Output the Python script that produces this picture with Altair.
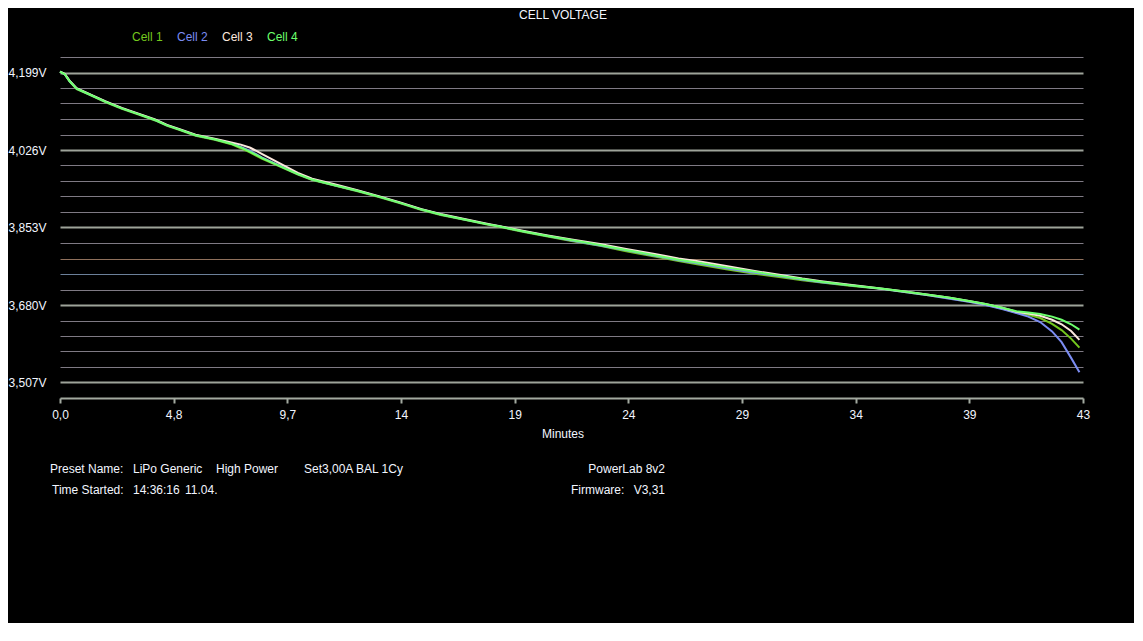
import altair as alt
import pandas as pd

# ---------------- data ----------------
minutes = [0.0, 0.2, 0.4, 0.7, 1.2, 1.9, 2.6, 3.3, 4.0, 4.5,
           5.0, 5.7, 6.5, 7.2, 7.6, 8.0, 8.5, 9.2, 10.0, 10.6,
           11.5, 12.5, 13.4, 14.3, 15.2, 16.0, 17.0, 18.0, 18.5, 19.5,
           20.5, 21.5, 22.7, 23.8, 25.0, 26.0, 26.9, 28.0, 29.2, 30.3,
           31.2, 32.0, 33.2, 34.5, 35.5, 36.5, 37.4, 38.2, 38.9, 39.6,
           40.2, 40.7, 41.2, 41.7, 42.1, 42.5, 42.85]

cell1 = [4.201, 4.195, 4.179, 4.162, 4.150, 4.133, 4.118, 4.105, 4.092, 4.080,
         4.071, 4.058, 4.049, 4.039, 4.030, 4.020, 4.006, 3.990, 3.971, 3.959,
         3.947, 3.934, 3.921, 3.907, 3.892, 3.881, 3.870, 3.859, 3.854, 3.843,
         3.833, 3.823, 3.812, 3.800, 3.788, 3.778, 3.770, 3.760, 3.750, 3.742,
         3.735, 3.730, 3.723, 3.716, 3.709, 3.702, 3.695, 3.688, 3.681, 3.672,
         3.663, 3.658, 3.651, 3.638, 3.624, 3.605, 3.585]

cell2 = [4.201, 4.195, 4.180, 4.163, 4.151, 4.134, 4.119, 4.106, 4.093, 4.081,
         4.072, 4.059, 4.050, 4.041, 4.033, 4.024, 4.009, 3.992, 3.972, 3.960,
         3.948, 3.935, 3.922, 3.908, 3.893, 3.882, 3.871, 3.860, 3.855, 3.844,
         3.834, 3.824, 3.813, 3.802, 3.790, 3.780, 3.772, 3.762, 3.752, 3.744,
         3.737, 3.731, 3.724, 3.716, 3.709, 3.702, 3.694, 3.687, 3.680, 3.671,
         3.662, 3.654, 3.642, 3.621, 3.597, 3.562, 3.530]

cell3 = [4.201, 4.196, 4.181, 4.164, 4.152, 4.135, 4.120, 4.107, 4.094, 4.082,
         4.073, 4.060, 4.051, 4.043, 4.038, 4.031, 4.017, 3.997, 3.975, 3.962,
         3.950, 3.936, 3.923, 3.909, 3.894, 3.883, 3.872, 3.861, 3.856, 3.845,
         3.835, 3.826, 3.816, 3.805, 3.794, 3.784, 3.777, 3.767, 3.756, 3.747,
         3.739, 3.733, 3.725, 3.717, 3.710, 3.703, 3.696, 3.689, 3.682, 3.674,
         3.665, 3.661, 3.656, 3.647, 3.637, 3.622, 3.602]

cell4 = [4.201, 4.195, 4.180, 4.163, 4.151, 4.134, 4.119, 4.106, 4.093, 4.081,
         4.072, 4.059, 4.050, 4.040, 4.032, 4.022, 4.008, 3.991, 3.972, 3.960,
         3.948, 3.935, 3.922, 3.908, 3.893, 3.882, 3.871, 3.860, 3.855, 3.844,
         3.834, 3.825, 3.814, 3.803, 3.791, 3.781, 3.774, 3.764, 3.754, 3.745,
         3.738, 3.732, 3.724, 3.717, 3.710, 3.703, 3.696, 3.689, 3.682, 3.674,
         3.666, 3.663, 3.660, 3.654, 3.647, 3.637, 3.625]

series_names = ["Cell 1", "Cell 2", "Cell 3", "Cell 4"]

x_tick_values = [0.0, 43 / 9, 86 / 9, 129 / 9, 172 / 9, 215 / 9, 258 / 9, 301 / 9, 344 / 9, 43.0]
x_tick_labels = ["0,0", "4,8", "9,7", "14", "19", "24", "29", "34", "39", "43"]

y_grid_values = [3.507, 3.5416, 3.5762, 3.6108, 3.6454, 3.680, 3.7146, 3.7492,
                 3.7838, 3.8184, 3.853, 3.8876, 3.9222, 3.9568, 3.9914, 4.026,
                 4.0606, 4.0952, 4.1298, 4.1644, 4.199, 4.2336]
y_label_values = [3.507, 3.680, 3.853, 4.026, 4.199]

# ---------------- styles ----------------
series_colors = ["#74c81e", "#7b8cf2", "#fce8de", "#6cff6c"]
FONT = "Liberation Sans"
TXT = "#f2f6ff"

rows = []
for name, vals in zip(series_names, [cell1, cell2, cell3, cell4]):
    for t, v in zip(minutes, vals):
        rows.append({"Minutes": t, "Voltage": v, "Cell": name})
df = pd.DataFrame(rows)

label_keys = "[" + ",".join(str(round(v * 1000)) for v in y_label_values) + "]"
y_label_expr = (f"indexof({label_keys}, round(datum.value*1000)) >= 0 ? "
                "replace(format(datum.value, '.3f'), '.', ',') + 'V' : ''")
x_label_arr = "[" + ",".join(f"'{s}'" for s in x_tick_labels) + "]"
x_label_expr = f"{x_label_arr}[round(datum.value*9/43)]"

is_label = f"indexof({label_keys}, round(datum.value*1000)) >= 0"

lines = alt.Chart(df).mark_line(strokeWidth=2, clip=False).encode(
    x=alt.X("Minutes:Q",
            scale=alt.Scale(domain=[0, 43], nice=False, zero=False),
            axis=alt.Axis(values=x_tick_values, labelExpr=x_label_expr, grid=False,
                          title=None, domainColor="#a3aaa0", domainWidth=2,
                          tickColor="#a3aaa0", tickWidth=2, tickSize=5,
                          labelColor=TXT, labelFont=FONT, labelFontSize=12,
                          labelPadding=6, labelFlush=False, labelOverlap=False)),
    y=alt.Y("Voltage:Q",
            scale=alt.Scale(domain=[3.4724, 4.2336], nice=False, zero=False),
            axis=alt.Axis(values=y_grid_values, labelExpr=y_label_expr, grid=True,
                          gridColor={"condition": [
                              {"test": is_label, "value": "#9ea39a"},
                              {"test": "round(datum.value*10000) == 37838", "value": "#8f705c"},
                              {"test": "round(datum.value*10000) == 37492", "value": "#6c809a"}],
                              "value": "#7f7a84"},
                          gridWidth={"condition": {"test": is_label, "value": 2}, "value": 1},
                          domain=False, ticks=False, title=None,
                          labelColor=TXT, labelFont=FONT, labelFontSize=12,
                          labelPadding=14, labelOverlap=False)),
    color=alt.Color("Cell:N", scale=alt.Scale(domain=series_names, range=series_colors),
                    legend=None),
    order=alt.Order("Minutes:Q"),
)

layers = [lines]

annotations = [
    ("CELL VOLTAGE", 503, -42, "center"),
    ("Minutes", 503, 377, "center"),
    ("Preset Name:", -10, 412, "left"),
    ("LiPo Generic", 73, 412, "left"),
    ("High Power", 156, 412, "left"),
    ("Set3,00A BAL 1Cy", 244, 412, "left"),
    ("PowerLab 8v2", 605, 412, "right"),
    ("Time Started:", -8, 433, "left"),
    ("14:36:16", 73, 433, "left"),
    ("11.04.", 125, 433, "left"),
    ("Firmware:", 511, 433, "left"),
    ("V3,31", 605, 433, "right"),
]
for text, x, y, align in annotations:
    layers.append(
        alt.Chart(pd.DataFrame({"label": [text]})).mark_text(
            align=align, baseline="middle", font=FONT, fontSize=12, color=TXT
        ).encode(x=alt.value(x), y=alt.value(y), text="label:N")
    )

# legend as coloured text
legend_x = [72, 117, 162, 207]
for name, col, lx in zip(series_names, series_colors, legend_x):
    layers.append(
        alt.Chart(pd.DataFrame({"label": [name]})).mark_text(
            align="left", baseline="middle", font=FONT, fontSize=12, color=col
        ).encode(x=alt.value(lx), y=alt.value(-20), text="label:N")
    )

chart = alt.layer(*layers).properties(
    width=1023, height=341,
    autosize=alt.AutoSizeParams(type="none"),
    padding={"left": 52, "top": 49, "right": 51, "bottom": 225},
).configure(background="#000000").configure_view(stroke=None)

chart.save("out.html", embed_options={"renderer": "svg", "actions": False})
